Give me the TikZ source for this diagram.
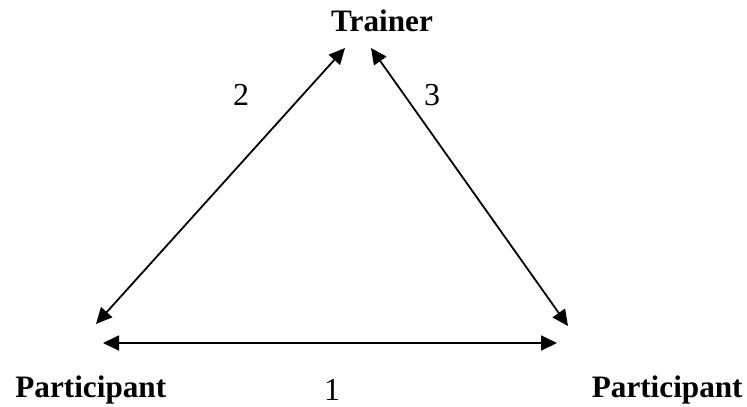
\documentclass[tikz,border=0pt]{standalone}
\usepackage{fontspec}
\setmainfont{Liberation Serif}
\usetikzlibrary{positioning,arrows.meta}

\begin{document}
\begin{tikzpicture}[x=0.5pt, y=-0.5pt,
    role/.style={font=\fontsize{15.6}{18}\selectfont\bfseries, inner sep=0pt},
    num/.style={font=\fontsize{16}{18}\selectfont, inner sep=0pt},
    link/.style={{Triangle[length=8pt,width=7.5pt]}-{Triangle[length=8pt,width=7.5pt]}, line width=0.9pt}
]
    \useasboundingbox (0,0) rectangle (747,406);
    \node[role, anchor=base] (tr) at (382,32) {Trainer};
    \node[role, anchor=base west] (pl) at (15,397) {Participant};
    \node[role, anchor=base east] (pr) at (743,397) {Participant};
    % arrow ends
    \coordinate (trl) at (345,48);
    \coordinate (trr) at (371,48);
    \coordinate (plt) at (96,324);
    \coordinate (prt) at (568,326);
    \coordinate (plb) at (103,343);
    \coordinate (prb) at (557,343);
    \draw[link] (plt) -- (trl);
    \draw[link] (trr) -- (prt);
    \draw[link] (plb) -- (prb);
    \node[num, anchor=base] (n1) at (332,400) {1};
    \node[num, anchor=base] (n2) at (241,106) {2};
    \node[num, anchor=base] (n3) at (432,106) {3};
\end{tikzpicture}
\end{document}
